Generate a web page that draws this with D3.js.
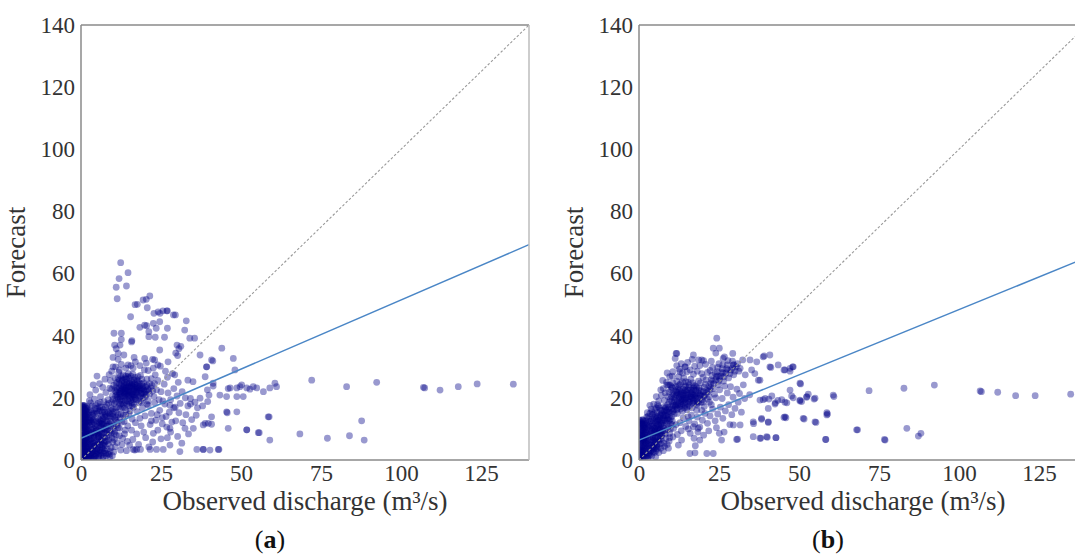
<!DOCTYPE html>
<html>
<head>
<meta charset="utf-8">
<script src="https://cdn.jsdelivr.net/npm/d3@7"></script>
<style>
  body { margin: 0; background: #fff; }
  svg { display: block; }
</style>
</head>
<body>
<svg id="chart" width="1075" height="555"></svg>
<script>
const FONT = "'Liberation Serif', 'Times New Roman', Times, 'DejaVu Serif', serif";

// tick values shared by both panels
const yTicks = [0, 20, 40, 60, 80, 100, 120, 140];
const xTicks = [0, 25, 50, 75, 100, 125];
const panelLabels = ["a", "b"];

// regression fits [intercept, slope]
const fitA = [7.0, 0.445];
const fitB = [6.4, 0.42];

// [observed, forecast] pairs, panel (a)
const pointsA = [
  // left edge strip
  [0.2,0.8],[0.5,2.1],[1.1,1.2],[1.6,0.4],[0.3,3.4],[1.2,3.0],[0.8,4.6],[1.7,4.2],[0.2,5.8],[1.3,6.1],
  [0.6,7.2],[1.8,7.6],[0.3,8.7],[1.1,9.0],[0.7,10.3],[1.6,10.1],[0.2,11.5],[1.2,11.9],[0.5,13.0],[1.5,13.4],
  [0.3,14.4],[1.0,14.9],[0.6,16.0],[1.4,15.8],[0.2,17.1],[0.9,17.4],[1.9,16.6],[0.4,1.5],[1.4,2.4],[0.9,5.3],
  [0.4,6.6],[1.5,8.4],[0.9,12.5],[0.5,15.5],[1.7,12.6],[2.0,9.5],[2.1,5.2],[2.3,2.9],[1.9,14.4],
  [0.1,0.2],[0.7,0.9],[1.3,1.9],[0.2,2.8],[1.0,3.7],[1.9,3.4],[0.5,4.2],[1.5,5.0],[0.8,6.3],[1.9,6.6],
  [0.1,7.9],[1.3,8.0],[0.6,9.5],[1.8,9.3],[1.2,10.7],[0.4,12.2],[1.6,11.3],[1.3,12.9],[0.7,13.8],[1.8,13.8],
  [0.3,15.1],[1.3,14.6],[1.0,16.4],[1.8,15.6],[0.5,17.6],[1.4,17.1],[0.1,16.6],[0.8,11.0],
  [0.3,0.4],[1.0,0.6],[1.8,1.2],[0.6,2.6],[1.5,3.2],[0.1,4.8],[1.1,4.9],[1.9,5.8],[0.7,5.9],[1.4,7.0],
  [0.4,7.6],[1.0,8.3],[1.9,8.5],[0.3,9.8],[1.2,10.1],[1.9,10.9],[0.5,10.9],[0.9,12.0],[1.8,12.2],[0.2,13.3],
  [1.2,13.7],[0.8,14.3],[1.6,14.9],[0.4,16.3],[1.3,16.2],[1.0,17.6],[0.6,17.0],[1.9,17.2],
  [0.4,0.9],[1.2,0.2],[0.9,2.2],[1.7,2.7],[0.5,3.8],[1.4,4.4],[0.2,5.2],[1.0,5.6],[1.7,6.9],[0.6,8.0],
  [1.5,9.0],[0.3,10.4],[1.0,10.8],[1.5,12.0],[0.6,12.8],[0.4,14.0],[1.5,14.2],[0.8,15.2],[1.6,16.6],[0.3,17.4],
  // low wedge
  [2.6,1.0],[3.2,3.6],[2.8,6.5],[3.5,8.8],[2.7,11.2],[3.3,13.6],[4.1,0.8],[4.4,4.7],[4.0,7.2],[4.6,10.4],
  [4.2,14.8],[5.2,2.3],[5.5,5.9],[5.1,8.6],[5.8,12.0],[6.3,1.5],[6.5,4.0],[6.2,7.3],[6.7,10.1],[6.4,14.2],
  [7.3,3.0],[7.6,6.0],[7.2,8.8],[7.8,12.5],[8.4,2.0],[8.6,5.2],[8.3,9.8],[8.9,13.8],[9.4,4.0],[9.7,7.1],
  [9.3,11.0],[10.2,2.6],[10.5,9.2],[10.8,12.8],[11.3,5.6],[11.6,14.6],[12.0,10.2],[3.0,2.2],[4.8,1.8],[3.8,5.6],
  [5.9,3.2],[7.0,1.1],[6.0,9.4],[8.0,7.4],[9.0,0.9],[10.0,14.0],[11.0,8.0],[12.4,3.2],[13.0,7.0],[2.5,15.5],
  [5.0,15.0],[7.0,16.2],[9.5,16.8],[11.8,17.2],[2.2,0.3],[3.6,1.7],[4.9,3.5],[2.9,4.9],[3.9,10.0],[4.7,12.6],
  [5.6,10.9],[6.9,13.3],[7.9,10.8],[8.8,11.6],[9.9,5.8],[10.7,4.3],[6.1,5.8],[7.5,4.6],[8.2,3.5],[9.1,2.9],
  [4.3,6.3],[5.4,7.4],[3.1,12.4],[2.4,9.8],[3.4,15.6],[6.0,16.0],[8.5,15.2],[10.3,11.0],[11.5,12.1],[12.5,14.8],
  [13.5,12.4],[13.8,9.6],[14.5,6.0],[12.8,5.0],
  [2.4,1.8],[3.4,0.5],[2.7,3.0],[3.9,2.8],[4.6,0.4],[5.6,1.4],[6.8,0.6],[7.9,1.4],[2.5,4.2],[3.3,5.2],
  [4.4,3.0],[5.0,4.4],[6.0,4.8],[6.9,3.6],[7.8,2.2],[8.8,1.8],[9.8,1.4],[2.9,8.0],[3.7,7.0],[4.6,8.2],
  [5.7,6.6],[6.8,7.0],[7.4,7.4],[8.6,6.4],[9.4,8.6],[10.4,6.6],[2.3,11.8],[3.6,11.6],[4.4,9.2],[5.2,9.8],
  [6.4,11.6],[7.2,10.2],[8.2,12.6],[9.2,12.4],[10.0,10.0],[11.2,11.2],[2.6,13.6],[3.8,13.0],[5.4,13.4],[6.2,12.6],
  [7.6,14.6],[9.0,14.8],[10.4,15.6],[4.4,16.6],[5.8,17.2],[3.0,18.4],
  [5.6,15.8],[7.4,15.4],[9.2,16.0],[11.0,16.8],[12.4,18.0],[13.6,16.8],[15.0,17.4],[10.6,13.4],[12.2,13.6],[14.0,14.4],
  [15.4,15.8],[9.6,12.0],
  [2.3,0.8],[3.1,1.2],[3.9,0.3],[4.5,2.2],[5.4,0.8],[6.2,3.0],[7.1,2.2],[2.2,3.6],[3.6,3.4],[4.0,4.4],
  [5.2,3.8],[6.6,5.0],[7.2,5.4],[8.0,6.0],[2.4,6.2],[3.2,6.8],[4.8,6.0],[5.6,7.8],[6.6,8.2],[7.8,8.6],
  [8.8,8.0],[2.6,9.0],[3.2,9.8],[4.2,8.6],[5.8,8.8],[6.2,10.6],[7.0,11.4],[8.0,9.6],[9.0,9.2],[2.8,12.8],
  [4.0,12.2],[5.0,11.4],[5.8,13.0],[7.4,12.0],[8.4,11.0],[2.2,14.6],[3.6,14.4],[4.8,15.6],[6.6,15.4],[8.0,14.0],
  [2.8,1.6],[3.6,2.4],[4.4,1.2],[5.0,2.8],[5.8,2.0],[6.6,2.6],[2.6,5.4],[3.4,4.4],[4.2,5.2],[5.2,5.0],
  [6.4,6.4],[7.0,4.8],[2.4,7.4],[3.0,8.6],[4.0,7.8],[4.8,9.4],[5.4,8.2],[6.4,9.2],[7.6,9.8],[3.4,10.6],
  [4.4,11.0],[5.6,12.2],[6.8,12.0],[2.6,12.2],[3.6,12.8],
  [3.0,16.2],[4.6,17.6],[6.0,18.6],[7.6,17.0],[8.6,18.2],[9.6,18.6],[10.8,18.8],[5.2,16.6],[7.0,14.2],[9.8,14.8],
  [11.0,13.8],[3.8,15.0],
  // rising arm
  [3.5,17.4],[4.2,19.6],[5.3,18.2],[6.1,20.4],[4.6,22.5],[5.8,24.6],[7.2,18.8],[7.8,21.7],[8.5,19.4],[9.0,23.1],
  [6.8,23.4],[9.8,20.6],[10.6,22.4],[3.8,24.2],[2.8,21.0],[7.5,26.0],[8.8,27.5],[5.0,27.0],[2.6,19.0],[6.4,17.0],
  [8.0,17.8],
  // main cluster
  [10.0,19.5],[11.2,21.0],[12.0,23.2],[12.8,25.4],[13.6,20.0],[14.4,22.6],[15.2,24.8],[16.0,21.4],[16.8,26.6],[17.5,23.0],
  [18.2,20.3],[19.0,24.4],[19.8,22.0],[20.6,26.0],[21.4,21.2],[22.2,24.0],[11.0,24.5],[12.4,27.0],[13.8,26.2],[14.8,27.8],
  [15.6,19.2],[17.0,19.8],[18.6,27.2],[10.6,26.4],[9.6,22.8],[11.8,18.6],[13.0,18.0],[14.0,24.0],[15.0,21.0],[16.4,23.6],
  [17.8,25.4],[19.4,20.0],[20.2,23.6],[21.0,19.0],[22.8,20.4],[23.6,22.6],[24.4,19.4],[13.2,22.0],[12.2,20.2],[14.6,19.0],
  [16.2,27.6],[18.0,22.2],[15.8,25.6],[13.4,24.2],[11.4,22.6],[17.2,21.8],[10.8,20.6],[12.6,22.2],[14.2,21.2],[15.4,23.4],
  [16.6,22.8],[18.4,23.8],[13.0,25.8],[15.0,26.4],[17.6,24.6],[19.2,21.6],[20.8,22.8],[14.0,20.4],[12.0,24.6],[16.0,20.2],
  [11.6,26.2],[21.8,23.2],
  [10.4,18.2],[11.6,19.6],[12.4,21.4],[13.4,23.2],[14.2,25.0],[15.0,22.2],[15.8,18.4],[16.8,20.2],[17.4,22.6],[18.8,22.8],
  [19.6,24.8],[20.4,21.0],[21.4,24.6],[22.4,22.2],[11.0,22.0],[12.8,19.0],[13.8,21.0],[14.8,23.6],[16.0,24.4],[16.6,25.8],
  [17.8,26.8],[19.0,26.0],[12.0,25.8],[13.2,27.4],[14.6,26.8],[15.6,27.0],[17.2,19.4],[18.6,19.0],[20.0,20.2],[21.2,22.4],
  [22.0,26.2],[23.0,24.6],[11.8,28.2],[10.2,24.0],[9.2,25.6],[13.0,17.0],[14.4,18.0],[16.0,17.4],[18.0,18.4],[20.6,18.0],
  [11.4,20.2],[12.2,22.0],[12.8,23.8],[13.6,21.6],[14.2,23.2],[14.8,20.6],[15.4,22.0],[16.0,23.0],[16.6,21.0],[17.2,24.0],
  [17.8,20.8],[18.4,22.6],[19.2,23.0],[19.8,21.2],[20.6,24.0],[13.0,22.8],[13.8,19.0],[15.2,19.8],[16.4,19.4],[14.4,24.4],
  [15.8,24.0],[18.2,24.8],[12.6,26.2],[14.0,27.0],
  [11.8,20.8],[12.6,22.6],[13.4,20.6],[13.8,22.4],[14.6,21.8],[15.2,23.6],[15.8,21.4],[16.4,22.2],[17.0,23.4],[17.6,21.6],
  [18.2,23.2],[18.8,21.4],[12.4,24.0],[13.6,25.0],[15.0,24.6],[16.8,24.6],[14.0,22.0],[16.2,21.0],[19.6,22.6],[11.0,23.2],
  [12.0,21.4],[12.8,20.4],[13.2,23.6],[14.0,23.0],[14.8,22.4],[15.6,20.6],[16.2,23.8],[17.0,22.0],[17.8,23.6],[18.6,20.6],
  [19.4,23.8],[13.6,18.4],[15.0,18.6],[16.6,18.0],[12.2,19.2],[11.2,25.0],[14.2,26.0],[16.0,25.0],[17.4,25.8],[20.2,22.2],
  // below the cluster
  [6.5,11.6],[7.4,13.8],[8.2,15.8],[9.2,14.2],[10.0,16.4],[11.0,15.4],[12.2,16.6],[13.2,14.4],[14.0,16.2],[15.0,14.8],
  [16.0,13.2],[14.6,11.0],[15.8,9.6],[17.0,12.0],[16.4,17.0],[17.6,15.6],[18.4,13.4],[19.2,16.8],[18.8,11.0],[20.0,14.2],
  [21.0,17.6],[22.0,15.0],[19.6,9.0],[17.4,8.4],[16.2,6.6],[18.0,5.0],[20.2,7.2],[21.6,11.4],[22.6,8.6],[23.4,12.8],
  [24.6,16.0],[25.4,13.6],[26.2,18.0],[24.0,9.6],[25.0,6.8],[26.8,10.6],[27.6,15.4],[28.4,12.2],[29.0,16.8],[19.0,18.6],
  [23.0,18.4],[12.8,12.2],[11.6,10.4],[13.6,8.4],[15.2,4.8],[14.2,3.0],[16.8,3.2],[18.6,3.4],[21.2,4.2],[22.4,5.8],
  [12.0,7.8],[10.4,8.6],[25.4,11.6],[26.6,14.0],[28.0,9.0],[29.6,12.6],[30.6,15.2],[31.8,12.0],[32.8,14.6],[33.6,8.4],
  [30.2,7.6],[27.0,7.2],[34.6,13.0],[36.0,14.4],[23.8,14.6],[22.0,12.6],
  // right of the cluster
  [25.0,22.0],[26.0,24.4],[27.2,21.6],[28.0,19.4],[29.0,23.0],[30.0,20.6],[31.0,18.2],[25.6,19.0],[27.0,26.6],[28.6,27.8],
  [30.4,25.0],[31.6,22.0],[32.6,20.0],[33.4,17.4],[34.2,19.8],[29.4,17.0],[27.8,17.6],[24.0,25.6],[23.2,27.4],[26.4,28.6],
  [24.8,30.2],[22.6,29.6],[21.0,28.8],[19.8,29.0],[18.4,30.4],[20.4,31.2],[22.4,32.4],[17.0,31.6],[15.6,30.4],[16.6,33.0],
  [14.0,29.6],[12.6,30.8],[11.6,32.4],[10.8,30.0],[9.6,28.6],[13.4,33.8],[11.0,35.8],[10.0,33.0],[12.0,29.0],
  // scattered
  [12.4,63.5],[14.7,60.3],[11.9,58.4],[11.0,55.6],[14.2,56.0],[11.3,51.9],[21.5,52.8],[20.4,51.7],[19.4,51.5],[17.6,50.1],
  [15.5,46.1],[20.7,49.0],[22.8,47.2],[24.1,47.7],[25.6,48.0],[27.0,48.0],[29.5,46.7],[24.6,44.5],[32.9,44.8],[18.4,42.7],
  [19.9,43.4],[21.2,41.3],[23.5,42.4],[27.0,42.4],[32.4,41.8],[10.3,40.8],[12.6,40.8],[12.6,38.8],[10.5,37.0],[12.2,37.0],
  [15.9,38.4],[21.2,39.7],[23.2,39.5],[26.1,39.5],[30.0,37.0],[30.6,35.8],[31.2,36.6],[29.6,34.4],[30.2,33.6],[34.0,39.2],
  [35.5,39.2],[24.6,35.4],[19.9,32.7],[23.0,32.2],[24.0,30.6],[11.6,34.3],[10.0,30.0],[14.7,30.6],[16.3,29.6],[27.2,31.6],
  [29.3,27.4],[33.4,25.7],[35.0,25.2],[39.2,30.0],[15.8,38.0],[20.5,43.2],[22.6,44.0],[16.9,50.0],[28.9,46.7],[24.7,47.2],
  [26.8,48.0],[37.2,33.8],[40.8,32.2],[39.3,30.0],[44.0,36.0],[47.6,32.7],[48.1,29.0],[46.6,23.2],[48.7,23.2],[49.7,23.6],
  [51.8,23.2],[53.8,23.6],[54.9,23.2],[59.0,23.2],[60.6,24.7],[38.8,26.8],[41.3,24.7],[43.4,20.9],[45.5,20.4],[48.7,20.4],
  [50.7,20.4],[37.2,19.9],[40.0,20.9],[34.2,18.0],[35.6,18.6],[36.4,16.8],[38.0,17.4],[39.6,18.8],[45.5,15.5],[48.7,15.5],
  [39.8,11.8],[38.2,11.3],[35.1,10.2],[32.5,10.2],[27.8,10.2],[46.0,10.2],[51.8,9.7],[55.4,8.8],[58.5,13.9],[59.0,6.4],
  [36.2,3.4],[38.2,3.4],[40.3,3.2],[42.9,3.4],[30.9,2.7],[31.5,5.4],[25.7,3.4],[23.6,3.4],[21.6,3.4],[27.8,4.8],
  [16.3,3.4],[17.4,3.4],[72.1,25.7],[83.0,23.6],[92.4,25.0],[107.0,23.4],[107.4,23.2],[112.2,22.5],[117.9,23.6],[123.8,24.5],
  [135.1,24.4],[68.4,8.4],[77.0,7.0],[83.9,7.8],[87.7,12.6],[88.5,6.4],[41.2,31.9],[61.1,23.6],[52.8,22.8],[50.2,24.2],
  [46.0,23.0],[39.5,22.6],[41.3,23.8],[57.0,22.0],[40.8,13.9],[38.8,11.8],[40.8,11.5],[45.7,15.2],[58.8,13.9],[51.8,9.7],
  [55.7,8.8],[38.2,3.4],[43.1,3.4]
];

// [observed, forecast] pairs, panel (b)
const pointsB = [
  // left edge strip
  [0.2,0.6],[0.8,1.8],[1.5,0.9],[2.2,2.4],[0.4,3.2],[1.3,3.9],[2.0,4.8],[0.6,5.4],[1.6,6.2],[0.3,7.0],
  [1.1,7.8],[2.1,7.4],[0.5,9.0],[1.5,9.6],[2.4,9.8],[0.3,10.8],[1.0,11.6],[1.9,11.4],[0.7,12.3],[2.6,11.9],
  [0.9,4.4],[1.8,2.9],[0.2,2.2],[1.2,5.8],[2.4,6.0],[0.8,8.6],[1.8,8.8],[0.4,11.6],[1.4,12.6],[2.8,0.6],
  [0.1,0.2],[1.1,0.3],[0.5,1.3],[1.4,2.2],[2.5,1.4],[0.2,4.0],[1.0,3.0],[2.3,3.8],[0.5,6.2],[1.9,5.6],
  [0.8,7.2],[1.6,7.0],[2.5,8.4],[0.2,8.2],[1.2,9.4],[2.0,10.4],[0.6,10.2],[1.5,10.9],[0.3,12.0],[2.2,12.6],
  [1.0,13.0],[2.8,10.6],[2.6,4.4],[0.9,1.0],
  [0.3,0.5],[1.2,1.4],[2.0,0.8],[0.6,2.6],[1.7,3.4],[0.4,4.8],[1.5,4.6],[2.2,5.4],[0.9,6.6],[1.9,6.8],
  [0.4,8.0],[1.4,8.2],[2.2,9.0],[0.9,9.8],[1.8,10.2],[0.6,11.2],[1.4,11.8],[2.4,11.2],[1.1,12.8],[0.2,12.8],
  [0.4,1.6],[1.3,2.8],[2.1,1.8],[0.7,3.6],[1.8,4.2],[0.3,5.8],[1.3,6.6],[2.2,6.6],[0.7,7.6],[1.9,8.0],
  [0.5,9.6],[1.3,10.4],[2.2,11.8],[0.8,11.6],
  // low wedge
  [3.0,1.4],[3.4,3.8],[2.9,6.4],[3.6,8.6],[3.2,11.0],[3.0,13.2],[4.4,2.6],[4.8,5.0],[4.2,7.6],[4.9,10.2],
  [4.5,12.6],[4.2,14.6],[5.6,3.6],[5.9,6.4],[5.4,8.8],[6.0,11.4],[5.8,14.0],[6.8,5.2],[7.1,7.8],[6.6,10.0],
  [7.2,12.6],[7.0,15.0],[8.0,4.4],[8.4,7.0],[8.0,9.4],[8.6,11.8],[8.2,14.4],[9.4,6.0],[9.6,8.6],[9.2,10.8],
  [9.8,13.2],[9.4,15.6],[10.6,7.4],[10.8,10.2],[10.4,12.6],[11.0,14.8],[3.8,4.8],[5.2,1.0],[6.2,2.4],[7.6,3.0],
  [4.0,9.6],[5.2,12.0],[6.4,8.4],[7.8,11.0],[8.8,9.8],[2.6,15.2],[3.8,16.4],[5.0,16.2],[6.4,16.8],[7.8,17.2],
  [4.6,18.0],[3.4,17.6],[9.0,17.8],[2.4,13.8],[6.0,13.0],[8.6,16.0],
  [3.2,2.2],[4.0,1.4],[4.6,3.6],[3.0,5.2],[3.8,6.4],[5.2,5.6],[6.0,4.2],[7.0,6.4],[4.6,8.8],[5.8,9.8],
  [6.8,8.8],[7.4,9.4],[8.2,8.4],[3.6,10.0],[4.2,11.6],[5.4,10.8],[6.4,12.2],[7.6,13.6],[8.8,13.2],[9.8,11.6],
  [3.4,12.4],[4.8,13.6],[5.6,15.2],[6.8,14.2],[8.0,15.8],[9.0,14.6],[10.2,14.0],[4.0,15.6],[6.0,17.2],[7.2,16.0],
  [8.4,17.0],[9.6,17.0],[10.8,16.2],[11.4,17.6],[5.0,6.8],[6.2,6.0],[7.8,5.4],[8.8,5.0],[9.6,7.2],
  [3.4,1.6],[4.2,3.2],[3.6,5.6],[5.0,4.2],[5.6,5.0],[6.6,6.8],[4.4,6.4],[5.2,7.4],[6.0,8.6],[7.2,8.4],
  [4.2,10.4],[5.0,9.6],[6.0,10.2],[6.8,11.4],[7.6,10.4],[8.4,12.6],[3.8,12.6],[5.2,14.0],[6.4,13.6],[7.4,14.8],
  [8.6,14.2],[9.4,12.8],[10.0,15.2],[6.8,16.0],[8.2,16.6],[5.4,16.8],[9.8,10.0],[10.4,11.4],
  [3.6,2.8],[4.4,4.4],[3.2,4.6],[5.4,3.0],[4.0,5.8],[5.0,6.0],[5.8,7.2],[6.6,7.6],[4.4,7.2],[3.4,7.6],
  [4.8,8.2],[5.6,9.2],[6.4,9.6],[7.0,10.6],[3.8,9.0],[4.6,11.0],[5.6,11.6],[6.2,11.0],[7.2,11.8],[8.0,12.8],
  [4.2,13.2],[5.4,13.0],[6.6,14.6],[7.8,14.4],[9.2,13.6],[8.8,15.4],
  [3.0,3.0],[3.8,3.8],[4.8,2.4],[2.8,8.0],[3.2,9.4],[4.0,11.0],[5.8,12.6],[6.6,12.8],[7.6,12.8],[4.6,14.8],
  [2.8,14.0],[3.4,15.0],[9.0,16.4],[10.6,15.6],[5.6,4.4],[6.8,3.8],
  // main cluster
  [10.2,16.4],[11.0,18.6],[11.6,20.8],[12.2,22.8],[12.8,17.2],[13.4,19.4],[14.0,21.6],[14.6,23.8],[15.2,18.0],[15.8,20.4],
  [16.4,22.4],[17.0,19.0],[17.6,21.2],[18.2,17.6],[18.8,20.0],[19.4,22.2],[20.0,18.6],[20.6,20.8],[12.0,15.0],[13.6,15.8],
  [15.0,16.2],[16.6,16.8],[11.4,23.6],[13.0,24.6],[15.4,25.0],[17.2,24.0],[10.6,21.4],[9.8,19.6],[14.4,17.6],[16.0,18.8],
  [18.0,23.4],[19.6,16.0],[21.4,19.6],[12.6,20.2],[14.8,20.0],[13.8,22.8],[16.8,21.0],[10.0,22.6],[9.0,20.4],[11.8,25.4],
  [14.0,26.4],[16.2,26.0],[18.6,25.4],[12.4,26.8],[10.6,24.8],
  [10.4,17.6],[11.2,19.4],[11.8,21.8],[12.4,18.4],[13.0,20.8],[13.2,22.0],[13.8,18.0],[14.2,19.6],[14.8,21.8],[15.4,19.2],
  [15.6,23.4],[16.2,20.4],[16.8,18.2],[17.2,22.6],[17.8,19.8],[18.4,21.6],[18.6,18.6],[19.2,20.8],[20.2,22.0],[19.8,19.4],
  [21.0,21.6],[12.0,16.6],[13.0,16.4],[14.2,16.8],[15.8,17.4],[11.0,20.0],[12.6,24.2],[14.6,25.2],[16.8,24.8],[17.6,23.8],
  [10.4,23.2],[9.4,21.8],[20.8,24.4],[22.2,22.6],
  [11.4,17.2],[12.0,19.0],[12.8,21.2],[13.4,17.6],[14.0,19.2],[14.6,21.0],[15.2,22.6],[15.0,17.0],[16.0,19.6],[16.6,21.8],
  [17.4,18.4],[18.0,20.6],[18.8,22.4],[19.4,18.6],[20.2,20.4],[12.2,23.6],[13.6,25.2],[11.4,22.2],[13.2,18.8],[17.0,23.2],
  [11.6,18.0],[12.4,20.0],[13.0,19.6],[13.8,20.8],[14.4,18.6],[15.0,20.8],[15.6,18.6],[16.2,21.4],[16.8,19.6],[17.6,20.2],
  [18.2,19.0],[12.0,21.6],[13.4,21.6],[14.4,22.4],[10.8,17.4],[11.8,16.2],[10.2,19.0],[9.4,18.6],[19.0,21.2],[17.8,22.4],
  [12.2,17.8],[13.0,18.0],[13.8,19.8],[14.6,19.8],[15.4,21.4],[16.0,22.6],[16.6,20.2],[17.2,20.8],[18.0,18.0],[12.6,22.4],
  [14.2,23.4],[15.6,24.2],[11.0,21.0],[10.2,20.4],[18.8,23.2],[19.8,20.6],
  // streak along the diagonal
  [20.4,23.4],[21.6,22.0],[22.4,24.6],[23.2,23.0],[24.0,25.8],[24.8,24.2],[25.6,27.0],[26.4,25.4],[27.2,28.0],[28.0,26.4],
  [28.8,29.0],[29.6,27.4],[30.4,30.0],[21.0,25.8],[22.8,27.2],[24.4,28.4],[26.0,29.4],[27.6,30.6],[23.6,21.2],[25.2,22.6],
  [26.8,23.8],[20.0,26.6],[19.2,24.8],[22.0,20.4],[31.2,28.6],[29.2,31.8],[25.0,31.0],[23.0,29.8],[21.4,28.2],[19.6,27.8],
  [18.2,28.6],[17.0,27.6],[16.0,29.0],[15.0,28.4],[13.6,28.0],[12.6,29.2],[11.8,30.4],[13.2,31.0],[15.2,31.4],[17.4,30.2],
  [19.0,30.4],[20.8,30.8],[22.6,31.8],[14.4,30.0],[16.6,32.4],[18.6,32.2],[10.6,28.4],[9.6,26.8],[8.6,25.0],[7.6,23.0],
  [8.2,21.6],[9.2,24.2],[10.4,27.0],[7.0,20.8],[6.2,19.0],[8.0,19.2],[5.4,20.4],[6.8,22.6],[7.4,25.6],[8.8,28.0],
  [5.8,17.8],
  [21.8,23.8],[22.6,25.8],[23.4,24.6],[24.2,26.8],[25.0,25.4],[25.8,28.2],[26.6,26.8],[27.4,29.4],[28.4,27.8],[29.2,29.6],
  [30.0,28.6],[30.8,31.0],[23.8,27.8],[26.2,30.6],[22.2,28.8],[24.6,29.8],
  [21.2,22.4],[23.0,25.4],[24.6,27.0],[26.2,28.0],[27.8,29.0],[29.6,30.6],[22.4,23.4],[25.2,26.2],
  // below the diagonal
  [12.8,12.0],[13.8,13.6],[14.6,10.8],[15.6,12.6],[16.4,14.4],[17.4,11.6],[18.2,13.8],[19.0,10.6],[19.8,12.8],[20.6,15.0],
  [21.4,11.8],[22.2,14.2],[23.0,16.4],[23.8,12.6],[24.6,14.8],[25.4,17.0],[26.2,13.4],[27.0,15.8],[28.0,17.8],[29.0,14.6],
  [30.0,16.6],[31.0,18.6],[32.0,15.4],[16.0,8.6],[17.2,7.0],[18.4,9.0],[20.2,8.0],[21.8,9.4],[15.4,10.0],[13.2,9.4],
  [12.0,8.2],[11.6,11.4],[24.2,10.4],[26.6,9.0],[28.4,11.4],[22.6,17.8],[20.4,17.2],[18.0,16.0],[26.0,19.8],[27.6,21.6],
  [29.4,20.2],[31.4,21.4],[33.0,19.8],[34.6,21.0],[30.6,22.8],[32.6,24.2],[28.6,23.6],[24.0,20.0],[22.0,18.6],[19.0,6.4],
  [17.6,4.6],
  // scattered
  [24.3,39.2],[23.2,36.0],[25.1,36.0],[29.3,34.3],[11.6,34.3],[11.3,32.7],[17.0,33.8],[19.6,32.2],[20.2,32.0],[26.3,32.7],
  [32.4,32.2],[34.7,32.2],[36.8,31.6],[38.8,33.2],[40.9,33.8],[43.5,30.6],[45.6,29.0],[48.2,30.0],[47.2,29.5],[35.2,29.0],
  [40.9,30.0],[37.3,25.7],[50.3,24.7],[47.2,22.5],[50.3,19.3],[52.4,20.4],[55.0,19.9],[60.7,20.9],[40.6,19.6],[43.4,19.2],
  [42.6,18.4],[45.6,18.6],[38.8,19.4],[58.7,14.5],[58.9,14.8],[55.0,12.3],[51.3,13.4],[51.6,13.2],[45.6,13.9],[45.9,13.6],
  [40.4,12.3],[38.3,13.4],[35.7,12.3],[35.8,11.7],[31.6,11.3],[29.5,11.3],[35.7,7.5],[37.8,7.0],[39.9,7.5],[42.8,7.2],
  [30.5,6.6],[30.8,6.7],[25.8,6.4],[25.1,8.6],[58.3,6.6],[68.0,9.7],[15.9,2.1],[17.5,2.3],[21.2,2.1],[23.2,2.1],
  [29.5,30.6],[31.6,29.5],[39.1,33.5],[41.2,29.8],[45.3,29.0],[47.2,28.6],[48.0,30.0],[37.8,25.7],[50.5,24.5],[47.7,20.6],
  [48.2,20.0],[52.4,20.2],[52.9,21.2],[54.7,19.6],[60.9,20.4],[71.9,22.3],[37.8,19.3],[39.4,19.8],[41.5,20.6],[44.6,19.4],
  [46.2,18.4],[50.3,19.0],[50.8,18.8],[40.4,16.6],[42.5,18.0],[58.7,15.2],[38.1,7.0],[40.1,7.3],[42.8,7.2],[58.4,6.6],
  [76.7,6.6],[82.8,23.1],[92.3,24.1],[106.6,22.2],[107.0,22.0],[112.1,21.8],[117.7,20.7],[123.8,20.7],[134.9,21.2],[68.3,9.7],
  [76.9,6.4],[83.7,10.2],[87.3,7.7],[88.1,8.6],[26.7,33.2],[11.8,34.3],[12.8,28.4],[14.4,30.0],[9.7,24.1],[10.2,23.6],
  [8.7,24.1],[9.2,3.8],[12.3,4.8],[13.3,6.4],[5.0,9.1],[17.0,10.7],[18.5,10.2],[15.4,13.9],[24.0,34.4],[27.8,32.0],
  [33.2,27.4],[36.2,27.8],[38.3,13.1],[40.4,12.1],[45.3,13.7],[55.3,12.1]
];

const svg = d3.select("#chart").style("font-family", FONT);
const plotTop = 25, plotBottom = 460, plotW = 448;

function drawPanel(left, points, fit, label) {
  const x = d3.scaleLinear().domain([0, 140]).range([left, left + plotW]);
  const y = d3.scaleLinear().domain([0, 140]).range([plotBottom, plotTop]);
  const g = svg.append("g");

  const clipId = "clip-" + label;
  g.append("clipPath").attr("id", clipId)
    .append("rect")
    .attr("x", left).attr("y", plotTop)
    .attr("width", plotW).attr("height", plotBottom - plotTop);

  // points
  g.append("g")
    .attr("clip-path", "url(#" + clipId + ")")
    .selectAll("circle")
    .data(points)
    .enter()
    .append("circle")
    .attr("cx", d => x(d[0]))
    .attr("cy", d => y(d[1]))
    .attr("r", 3.4)
    .attr("fill", "#000088")
    .attr("fill-opacity", 0.4);

  // 1:1 line
  g.append("line")
    .attr("x1", x(0)).attr("y1", y(0))
    .attr("x2", x(140)).attr("y2", y(140))
    .attr("stroke", "#999")
    .attr("stroke-width", 1.1)
    .attr("stroke-dasharray", "2.5,2");

  // fitted line
  g.append("line")
    .attr("x1", x(0)).attr("y1", y(fit[0]))
    .attr("x2", x(140)).attr("y2", y(fit[0] + fit[1] * 140))
    .attr("stroke", "#4a86c6")
    .attr("stroke-width", 1.5);

  // frame
  g.append("line").attr("x1", left).attr("x2", left + plotW).attr("y1", plotTop).attr("y2", plotTop)
    .attr("stroke", "#8a8a8a").attr("stroke-width", 1.5);
  g.append("line").attr("x1", left).attr("x2", left + plotW).attr("y1", plotBottom).attr("y2", plotBottom)
    .attr("stroke", "#8a8a8a").attr("stroke-width", 1.5);
  g.append("line").attr("x1", left).attr("x2", left).attr("y1", plotTop).attr("y2", plotBottom)
    .attr("stroke", "#8a8a8a").attr("stroke-width", 1.5);
  g.append("line").attr("x1", left + plotW).attr("x2", left + plotW).attr("y1", plotTop).attr("y2", plotBottom)
    .attr("stroke", "#bdbdbd").attr("stroke-width", 1.5);

  // axes
  const yAxis = g.append("g")
    .attr("transform", "translate(" + left + ",0)")
    .call(d3.axisLeft(y).tickValues(yTicks).tickSize(0).tickPadding(6));
  const xAxis = g.append("g")
    .attr("transform", "translate(0," + plotBottom + ")")
    .call(d3.axisBottom(x).tickValues(xTicks).tickSize(0).tickPadding(5));
  [yAxis, xAxis].forEach(a => {
    a.attr("font-family", null).attr("font-size", null);
    a.select(".domain").remove();
    a.selectAll("text")
      .style("font-family", FONT)
      .style("font-size", "23px")
      .attr("fill", "#333");
  });

  // axis titles
  g.append("text")
    .attr("transform", "translate(" + (left - 56) + "," + ((plotTop + plotBottom) / 2 + 10) + ") rotate(-90)")
    .attr("text-anchor", "middle")
    .style("font-family", FONT)
    .style("font-size", "27px")
    .attr("fill", "#333")
    .text("Forecast");

  g.append("text")
    .attr("x", left + 224)
    .attr("y", 510)
    .attr("text-anchor", "middle")
    .style("font-family", FONT)
    .style("font-size", "27px")
    .attr("fill", "#333")
    .text("Observed discharge (m³/s)");

  // panel label
  const lab = g.append("text")
    .attr("x", left + 189)
    .attr("y", 548)
    .attr("text-anchor", "middle")
    .style("font-family", FONT)
    .style("font-size", "26px")
    .attr("fill", "#111");
  lab.append("tspan").text("(");
  lab.append("tspan").style("font-weight", "bold").text(label);
  lab.append("tspan").text(")");
}

drawPanel(81, pointsA, fitA, panelLabels[0]);
drawPanel(639, pointsB, fitB, panelLabels[1]);
</script>
</body>
</html>
